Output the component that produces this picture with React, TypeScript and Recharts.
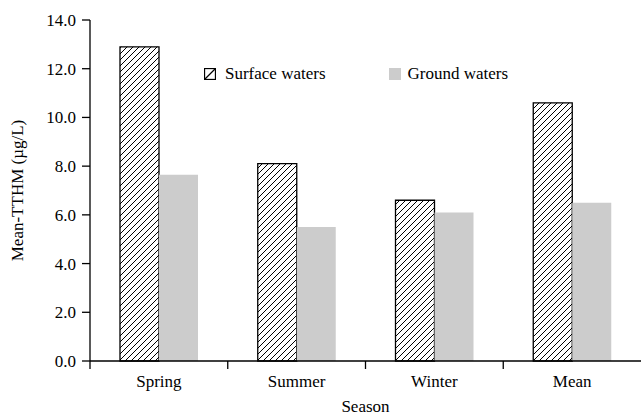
import React from "react";
import { Bar, BarChart, XAxis, YAxis, Label } from "recharts";

const seasons = ["Spring", "Summer", "Winter", "Mean"];
const surfaceWaters = [12.9, 8.1, 6.6, 10.6];
const groundWaters = [7.65, 5.5, 6.1, 6.5];
const yTicks = [0, 2, 4, 6, 8, 10, 12, 14];
const seriesNames = ["Surface waters", "Ground waters"];

const data = seasons.map((season, i) => ({
  season,
  surface: surfaceWaters[i],
  ground: groundWaters[i],
}));

const FONT = "Liberation Serif";

function SeasonTick(props) {
  const { x, y, payload } = props;
  const half = payload && payload.offset ? payload.offset : 68.9;
  return (
    <g>
      <line x1={x - half} x2={x - half} y1={y - 8} y2={y} stroke="#000" strokeWidth={1.3} />
      <text x={x} y={y + 18} textAnchor="middle" fontFamily={FONT} fontSize={17} fill="#000">
        {payload.value}
      </text>
    </g>
  );
}

function LegendBox() {
  return (
    <div
      style={{
        position: "absolute",
        left: 204,
        top: 64,
        display: "flex",
        alignItems: "center",
        fontFamily: FONT,
        fontSize: 17,
        color: "#000",
        whiteSpace: "nowrap",
        lineHeight: "20px",
      }}
    >
      <svg width={12} height={12} style={{ marginRight: 9 }}>
        <rect x={0.5} y={0.5} width={11} height={11} fill="#fff" stroke="#000" strokeWidth={1.3} />
        <line x1={1} y1={11} x2={11} y2={1} stroke="#000" strokeWidth={1.2} />
      </svg>
      <span>{seriesNames[0]}</span>
      <svg width={12} height={12} style={{ marginLeft: 63, marginRight: 7 }}>
        <rect x={0} y={0} width={12} height={12} fill="#cccccc" />
      </svg>
      <span>{seriesNames[1]}</span>
    </div>
  );
}

function App() {
  return (
    <div style={{ position: "absolute", left: 0, top: 0, width: 641, height: 415 }}>
      <BarChart
        width={641}
        height={415}
        data={data}
        margin={{ top: 20, right: 0, left: 0, bottom: 0 }}
        barGap={0}
        barSize={39}
      >
        <defs>
          <pattern id="hatch" width={6} height={6} patternUnits="userSpaceOnUse">
            <path d="M-1,7 L7,-1 M-1,1 L1,-1 M5,7 L7,5" stroke="#000" strokeWidth={1} />
          </pattern>
        </defs>
        <XAxis
          dataKey="season"
          tick={<SeasonTick />}
          tickLine={false}
          axisLine={{ stroke: "#000", strokeWidth: 1.3 }}
          interval={0}
          height={54}
        >
          <Label value="Season" position="insideBottom" offset={3} fontFamily={FONT} fontSize={17} fill="#000" />
        </XAxis>
        <YAxis
          width={90}
          domain={[0, 14]}
          ticks={yTicks}
          interval={0}
          tickFormatter={(v) => v.toFixed(1)}
          tick={{ fontFamily: FONT, fontSize: 17, fill: "#000" }}
          tickSize={8}
          tickMargin={6}
          tickLine={{ stroke: "#000", strokeWidth: 1.3 }}
          axisLine={{ stroke: "#000", strokeWidth: 1.3 }}
        >
          <Label
            value="Mean-TTHM (µg/L)"
            angle={-90}
            position="insideLeft"
            offset={17}
            style={{ textAnchor: "middle" }}
            fontFamily={FONT}
            fontSize={17}
            fill="#000"
          />
        </YAxis>
        <Bar dataKey="surface" name={seriesNames[0]} fill="url(#hatch)" stroke="#000" strokeWidth={1.3} isAnimationActive={false} />
        <Bar dataKey="ground" name={seriesNames[1]} fill="#cccccc" isAnimationActive={false} />
      </BarChart>
      <LegendBox />
    </div>
  );
}

export default App;
